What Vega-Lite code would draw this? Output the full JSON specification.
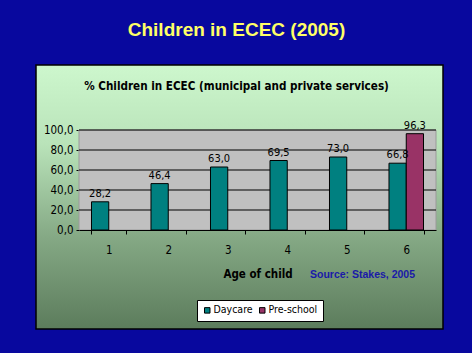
{
  "$schema": "https://vega.github.io/schema/vega-lite/v6.json",
  "width": 407,
  "height": 264,
  "autosize": {"type": "none"},
  "padding": {"left": 36, "top": 65, "right": 29, "bottom": 24},
  "background": "#08089e",
  "config": {
    "locale": {"number": {"decimal": ",", "thousands": ".", "grouping": [3], "currency": ["", " €"]}},
    "view": {
      "fill": {"gradient": "linear", "x1": 0, "y1": 0, "x2": 0, "y2": 1,
        "stops": [
          {"offset": 0, "color": "#cdf7cd"},
          {"offset": 0.3, "color": "#b9e3b9"},
          {"offset": 0.65, "color": "#85a985"},
          {"offset": 1, "color": "#5c7c5c"}
        ]},
      "stroke": "black",
      "strokeWidth": 1.5
    },
    "font": "DejaVu Sans Condensed, sans-serif",
    "axisY": {
      "orient": "left", "offset": -43, "zindex": 1, "values": [0, 20, 40, 60, 80, 100], "format": ".1f",
      "title": null, "grid": false, "domainColor": "black", "tickColor": "black", "tickSize": 3,
      "labelFontSize": 11.5, "labelColor": "black", "labelPadding": 3
    }
  },
  "title": {
    "text": "Children in ECEC (2005)",
    "subtitle": "% Children in ECEC (municipal and private services)",
    "anchor": "middle",
    "frame": "group",
    "dx": -3,
    "font": "Liberation Sans, Arial, sans-serif",
    "fontSize": 19,
    "fontWeight": "bold",
    "color": "#ffff66",
    "subtitleFont": "DejaVu Sans Condensed, sans-serif",
    "subtitleFontSize": 11.6,
    "subtitleFontWeight": "bold",
    "subtitleColor": "black",
    "subtitlePadding": 41,
    "offset": -28
  },
  "resolve": {"scale": {"x": "independent"}, "axis": {"x": "independent"}},
  "layer": [
    {
      "layer": [
        {
          "data": {"values": [{}]},
          "mark": {"type": "rect", "fill": "#c0c0c0", "stroke": "#9a9a9a", "strokeWidth": 1},
          "encoding": {
            "x": {"datum": 0, "type": "quantitative",
              "scale": {"domain": [0, 1], "range": [43, 400], "nice": false, "zero": false},
              "axis": {
                "orient": "bottom", "offset": -99, "domain": false, "ticks": false, "labels": false, "grid": false,
                "title": "Source: Stakes, 2005", "titleX": 326, "titleY": 44, "titleAlign": "center", "titleBaseline": "middle",
                "titleColor": "#1a1aa8", "titleFont": "Liberation Sans, Arial, sans-serif", "titleFontSize": 10.5, "titleFontWeight": "bold"
              }},
            "x2": {"datum": 1},
            "y": {"datum": 0, "type": "quantitative", "scale": {"domain": [0, 100], "range": [165, 65], "nice": false}, "axis": {"title": null}},
            "y2": {"datum": 100}
          }
        },
        {
          "data": {"values": [{"g": 20}, {"g": 40}, {"g": 60}, {"g": 80}, {"g": 100}]},
          "mark": {"type": "rule", "color": "black", "strokeWidth": 1},
          "encoding": {
            "x": {"datum": 0, "type": "quantitative"},
            "x2": {"datum": 1},
            "y": {"field": "g", "type": "quantitative", "axis": {"title": null}}
          }
        }
      ]
    },
    {
      "data": {"values": [
        {"age": "1", "series": "Daycare", "pct": 28.2},
        {"age": "2", "series": "Daycare", "pct": 46.4},
        {"age": "3", "series": "Daycare", "pct": 63.0},
        {"age": "4", "series": "Daycare", "pct": 69.5},
        {"age": "5", "series": "Daycare", "pct": 73.0},
        {"age": "6", "series": "Daycare", "pct": 66.8},
        {"age": "6", "series": "Pre-school", "pct": 96.3}
      ]},
      "encoding": {
        "x": {"field": "age", "type": "ordinal",
          "scale": {"range": [43, 400], "paddingInner": 0.42, "paddingOuter": 0.21},
          "axis": {
            "orient": "bottom", "offset": -99, "zindex": 1, "labelAngle": 0,
            "domainColor": "black", "tickColor": "black", "tickSize": 4, "tickBand": "extent",
            "labelFontSize": 11.5, "labelColor": "black", "labelPadding": 10,
            "title": "Age of child", "titleFontSize": 11.5, "titleFontWeight": "bold", "titleColor": "black",
            "titleY": 44, "titleBaseline": "middle"
          }},
        "xOffset": {"field": "series", "type": "nominal", "scale": {"domain": ["Daycare", "Pre-school"]}},
        "y": {"field": "pct", "type": "quantitative",
          "scale": {"domain": [0, 100], "range": [165, 65], "nice": false},
          "axis": {"title": null}}
      },
      "layer": [
        {
          "mark": {"type": "bar", "stroke": "black", "strokeWidth": 1},
          "encoding": {
            "color": {"field": "series", "type": "nominal",
              "scale": {"domain": ["Daycare", "Pre-school"], "range": ["#008080", "#993366"]},
              "legend": {
                "orient": "none", "legendX": 161, "legendY": 235, "direction": "horizontal", "title": null,
                "fillColor": "white", "strokeColor": "black", "padding": 5,
                "symbolType": "square", "symbolSize": 30, "symbolStrokeColor": "black", "symbolStrokeWidth": 1,
                "labelFontSize": 10.5, "labelColor": "black", "labelOffset": 1, "columnPadding": 4
              }}
          }
        },
        {
          "mark": {"type": "text", "baseline": "bottom", "dy": -3, "fontSize": 11, "color": "black"},
          "encoding": {"text": {"field": "pct", "type": "quantitative", "format": ".1f"}}
        }
      ]
    }
  ]
}
